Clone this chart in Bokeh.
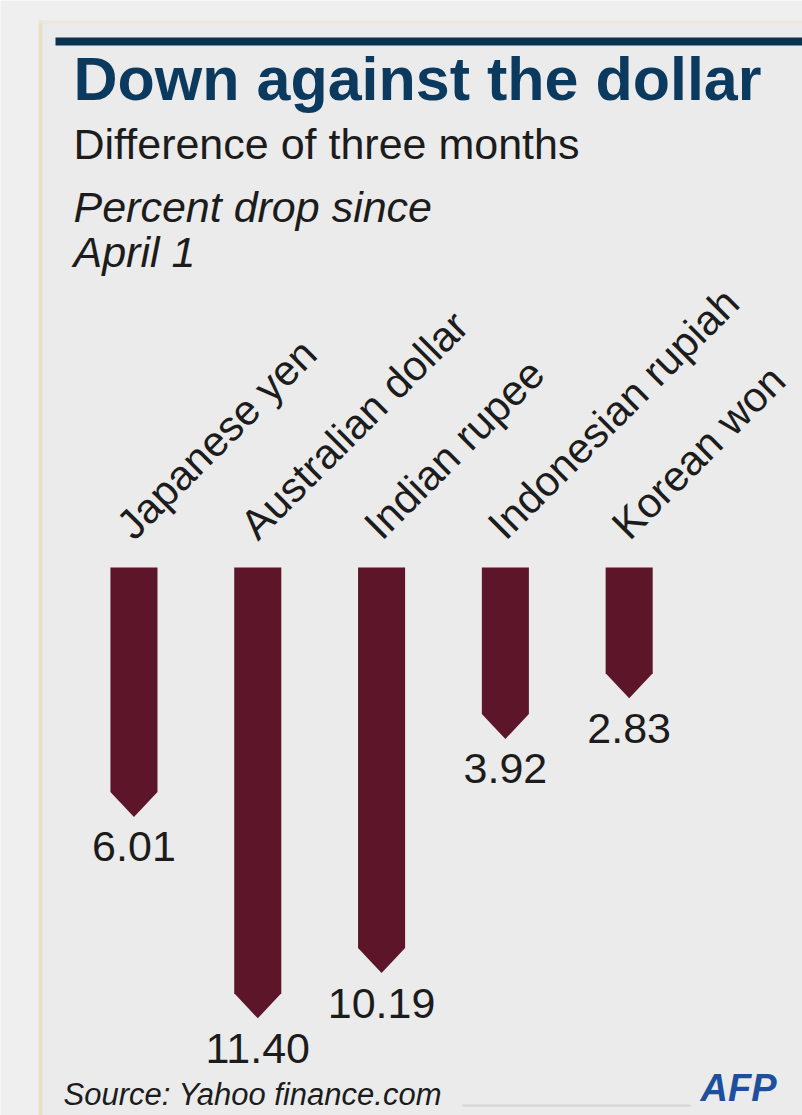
import math
from bokeh.plotting import figure
from bokeh.models import Range1d, Label, BoxAnnotation, ColumnDataSource
from bokeh.core.properties import value
from bokeh.embed import file_html
from bokeh.resources import INLINE

# ---- data ----
currencies = ["Japanese yen", "Australian dollar", "Indian rupee",
              "Indonesian rupiah", "Korean won"]
drops = [6.01, 11.40, 10.19, 3.92, 2.83]
drop_labels = ["6.01", "11.40", "10.19", "3.92", "2.83"]

title_text = "Down against the dollar"
subtitle_text = "Difference of three months"
unit_lines = ["Percent drop since", "April 1"]
source_text = "Source: Yahoo finance.com"
credit_text = "AFP"

# ---- style ----
W, H = 802, 1115
FONT = "Liberation Sans"
BAR = "#5c1529"
NAVY = "#0b3a5e"
INK = "#1c1c1c"
half_w = 0.19      # bar half width (category units)
tip = 0.67         # arrow tip length (value units)

pos = list(range(len(currencies)))

p = figure(width=W, height=H, output_backend="svg", toolbar_location=None,
           x_axis_type=None, y_axis_type=None,
           x_range=Range1d(-1.078, 5.40), y_range=Range1d(14.672, -15.181),
           min_border=0, outline_line_color=None,
           background_fill_color="#efefef", border_fill_color="#efefef")
p.grid.visible = False

def sbox(left, right, top_px, bottom_px, color, level="annotation"):
    p.add_layout(BoxAnnotation(left=left, right=right,
                               top=H - top_px, bottom=H - bottom_px,
                               left_units="screen", right_units="screen",
                               top_units="screen", bottom_units="screen",
                               fill_color=color, fill_alpha=1, line_color=None,
                               level=level))

# panel
sbox(38, W, 20, H, "#ebebeb", "underlay")
sbox(38, 42, 20, H, "#e9dfc9", "underlay")
sbox(38, W, 20, 23, "#eee8da", "underlay")
# navy rule
sbox(55, W, 37, 45, "#0a3352")
# faint footer line
sbox(462, 690, 1104, 1106, "#d4d4d4")

# arrow bars built from the data
xs, ys = [], []
for i, v in zip(pos, drops):
    xs.append([i - half_w, i + half_w, i + half_w, i, i - half_w])
    ys.append([0, 0, v, v + tip, v])
p.patches(xs=xs, ys=ys, fill_color=BAR, line_color=None)

src = ColumnDataSource(dict(x=pos, y=drops, lab=drop_labels,
                            zero=[0] * len(pos), cur=currencies))

# value labels below arrow tips
p.text(x="x", y="y", text="lab", source=src, text_align="center",
       text_baseline="alphabetic", y_offset=55,
       text_font=value(FONT), text_font_size="43px", text_color=INK)

# rotated currency labels above bars
p.text(x="x", y="zero", text="cur", source=src, angle=math.pi / 4,
       text_align="left", text_baseline="alphabetic",
       x_offset=-10, y_offset=-36,
       text_font=value(FONT), text_font_size="42px", text_color=INK)

def add_label(txt, x, y_base, size, style="normal", color=INK):
    p.add_layout(Label(x=x, y=H - y_base, x_units="screen", y_units="screen",
                       text=txt, text_font=FONT, text_font_size=size,
                       text_font_style=style, text_color=color,
                       text_baseline="alphabetic", text_align="left"))

add_label(title_text, 73, 78, "61px", "bold", NAVY)
add_label(subtitle_text, 73, 143, "43px")
add_label(unit_lines[0], 73, 206, "43px", "italic")
add_label(unit_lines[1], 73, 251, "43px", "italic")
add_label(source_text, 63, 1094, "31px", "italic")
add_label(credit_text, 700, 1087, "38px", "bold italic", "#1d4f9e")

open("out.html", "w").write(file_html(p, INLINE))
